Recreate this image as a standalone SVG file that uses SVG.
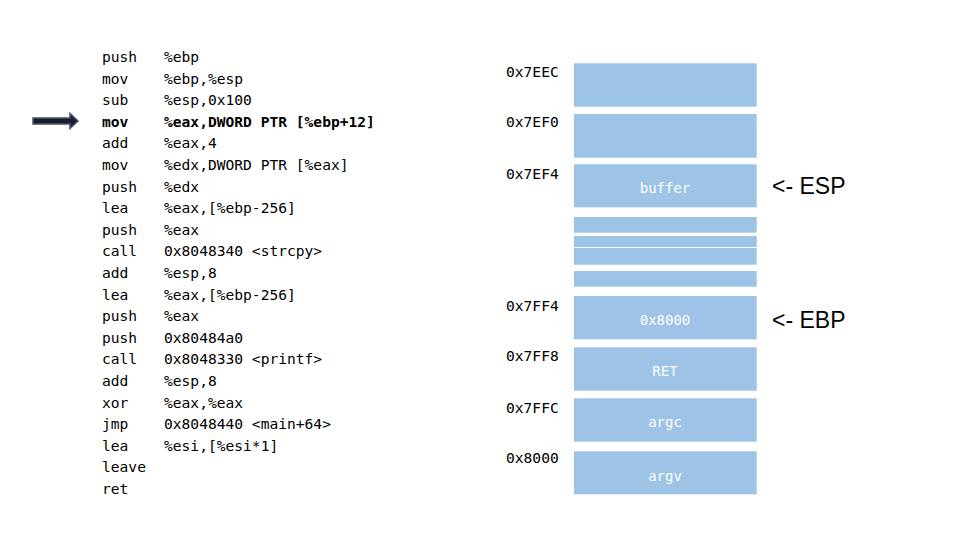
<svg xmlns="http://www.w3.org/2000/svg" width="960" height="540" viewBox="0 0 960 540">
<style>
.code{font-family:"DejaVu Sans Mono","Liberation Mono",monospace;font-size:14.6px;fill:#000}
.b{font-weight:bold}
.addr{font-family:"DejaVu Sans Mono","Liberation Mono",monospace;font-size:14.6px;fill:#000}
.cell{fill:#9DC3E6}
.lbl{font-family:"DejaVu Sans Mono","Liberation Mono",monospace;font-size:14px;fill:#FFFFFF;text-anchor:middle}
.ptr{font-family:"Liberation Sans",Arial,sans-serif;font-size:23px;fill:#000}
</style>
<rect width="960" height="540" fill="#FFFFFF"/>
<g id="code">
<text class="code" x="102" y="62">push</text><text class="code" x="164" y="62">%ebp</text>
<text class="code" x="102" y="83.6">mov</text><text class="code" x="164" y="83.6">%ebp,%esp</text>
<text class="code" x="102" y="105.2">sub</text><text class="code" x="164" y="105.2">%esp,0x100</text>
<text class="code b" x="102" y="126.8">mov</text><text class="code b" x="164" y="126.8">%eax,DWORD PTR [%ebp+12]</text>
<text class="code" x="102" y="148.4">add</text><text class="code" x="164" y="148.4">%eax,4</text>
<text class="code" x="102" y="170">mov</text><text class="code" x="164" y="170">%edx,DWORD PTR [%eax]</text>
<text class="code" x="102" y="191.6">push</text><text class="code" x="164" y="191.6">%edx</text>
<text class="code" x="102" y="213.2">lea</text><text class="code" x="164" y="213.2">%eax,[%ebp-256]</text>
<text class="code" x="102" y="234.8">push</text><text class="code" x="164" y="234.8">%eax</text>
<text class="code" x="102" y="256.4">call</text><text class="code" x="164" y="256.4">0x8048340 &lt;strcpy&gt;</text>
<text class="code" x="102" y="278">add</text><text class="code" x="164" y="278">%esp,8</text>
<text class="code" x="102" y="299.6">lea</text><text class="code" x="164" y="299.6">%eax,[%ebp-256]</text>
<text class="code" x="102" y="321.2">push</text><text class="code" x="164" y="321.2">%eax</text>
<text class="code" x="102" y="342.8">push</text><text class="code" x="164" y="342.8">0x80484a0</text>
<text class="code" x="102" y="364.4">call</text><text class="code" x="164" y="364.4">0x8048330 &lt;printf&gt;</text>
<text class="code" x="102" y="386">add</text><text class="code" x="164" y="386">%esp,8</text>
<text class="code" x="102" y="407.6">xor</text><text class="code" x="164" y="407.6">%eax,%eax</text>
<text class="code" x="102" y="429.2">jmp</text><text class="code" x="164" y="429.2">0x8048440 &lt;main+64&gt;</text>
<text class="code" x="102" y="450.8">lea</text><text class="code" x="164" y="450.8">%esi,[%esi*1]</text>
<text class="code" x="102" y="472.4">leave</text>
<text class="code" x="102" y="494">ret</text>
</g>
<g id="connectors">
<path d="M33,118 L70,118 L70,113.5 L78,121 L70,128.5 L70,124 L33,124 Z" fill="#1B1B2F" stroke="#44546A" stroke-width="1.5" stroke-linejoin="miter"/>
</g>
<g id="addresses">
<text class="addr" x="506" y="77">0x7EEC</text>
<text class="addr" x="506" y="127">0x7EF0</text>
<text class="addr" x="506" y="178.5">0x7EF4</text>
<text class="addr" x="506" y="311">0x7FF4</text>
<text class="addr" x="506" y="361">0x7FF8</text>
<text class="addr" x="506" y="412.5">0x7FFC</text>
<text class="addr" x="506" y="463">0x8000</text>
</g>
<g id="cell-7eec"><rect class="cell" x="574" y="63.3" width="182.7" height="43.4"/></g>
<g id="cell-7ef0"><rect class="cell" x="574" y="114" width="182.7" height="43.7"/></g>
<g id="cell-buffer"><rect class="cell" x="574" y="164.3" width="182.7" height="43"/><text class="lbl" x="665" y="193">buffer</text></g>
<g id="cell-fill1"><rect class="cell" x="574" y="217" width="182.7" height="15.7"/></g>
<g id="cell-fill2"><rect class="cell" x="574" y="236" width="182.7" height="11"/></g>
<g id="cell-fill3"><rect class="cell" x="574" y="248" width="182.7" height="16.7"/></g>
<g id="cell-fill4"><rect class="cell" x="574" y="271" width="182.7" height="15.7"/></g>
<g id="cell-ebp"><rect class="cell" x="574" y="296" width="182.7" height="43.3"/><text class="lbl" x="665" y="324.5">0x8000</text></g>
<g id="cell-ret"><rect class="cell" x="574" y="347.3" width="182.7" height="43.4"/><text class="lbl" x="665" y="375.5">RET</text></g>
<g id="cell-argc"><rect class="cell" x="574" y="398.3" width="182.7" height="43.4"/><text class="lbl" x="665" y="426.5">argc</text></g>
<g id="cell-argv"><rect class="cell" x="574" y="451.3" width="182.7" height="43"/><text class="lbl" x="665" y="481">argv</text></g>
<g id="esp"><text class="ptr" x="772" y="193.5">&lt;- ESP</text></g>
<g id="ebp"><text class="ptr" x="772" y="328">&lt;- EBP</text></g>
</svg>
